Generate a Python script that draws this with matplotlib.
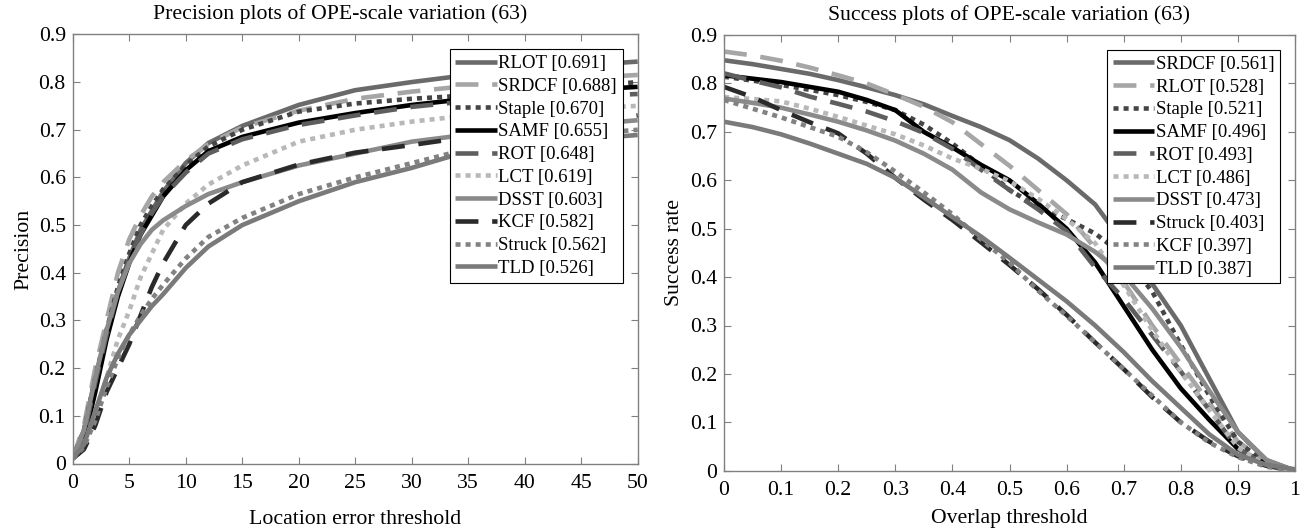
import matplotlib
matplotlib.use("Agg")
import matplotlib.pyplot as plt
import numpy as np

plt.rcParams['font.family'] = ['Liberation Serif', 'DejaVu Serif']

# ---------------- data: precision plot ----------------
prec_x = [0, 1, 2, 3, 4, 5, 6, 7, 8, 10, 12, 15, 20, 25, 30, 35, 40, 45, 50]
prec_names = ["RLOT", "SRDCF", "Staple", "SAMF", "ROT", "LCT", "DSST", "KCF", "Struck", "TLD"]
prec_scores = ["0.691", "0.688", "0.670", "0.655", "0.648", "0.619", "0.603", "0.582", "0.562", "0.526"]
prec_RLOT   = [0.01, 0.07, 0.18, 0.27, 0.36, 0.43, 0.49, 0.53, 0.57, 0.63, 0.672, 0.708, 0.752, 0.783, 0.80, 0.815, 0.825, 0.835, 0.843]
prec_SRDCF  = [0.01, 0.08, 0.20, 0.30, 0.40, 0.47, 0.52, 0.56, 0.59, 0.635, 0.67, 0.705, 0.74, 0.765, 0.78, 0.792, 0.80, 0.808, 0.815]
prec_Staple = [0.01, 0.07, 0.18, 0.28, 0.37, 0.44, 0.50, 0.54, 0.575, 0.625, 0.665, 0.70, 0.738, 0.755, 0.765, 0.772, 0.78, 0.79, 0.80]
prec_SAMF   = [0.01, 0.05, 0.15, 0.26, 0.35, 0.42, 0.48, 0.52, 0.56, 0.615, 0.655, 0.685, 0.715, 0.735, 0.752, 0.765, 0.775, 0.783, 0.79]
prec_ROT    = [0.01, 0.06, 0.17, 0.27, 0.36, 0.43, 0.48, 0.525, 0.56, 0.61, 0.65, 0.68, 0.71, 0.73, 0.748, 0.76, 0.765, 0.77, 0.775]
prec_LCT    = [0.01, 0.04, 0.10, 0.18, 0.26, 0.32, 0.39, 0.44, 0.49, 0.545, 0.585, 0.625, 0.675, 0.70, 0.717, 0.73, 0.74, 0.745, 0.75]
prec_DSST   = [0.01, 0.07, 0.18, 0.28, 0.36, 0.42, 0.46, 0.49, 0.51, 0.54, 0.565, 0.59, 0.625, 0.65, 0.675, 0.69, 0.70, 0.71, 0.72]
prec_KCF    = [0.01, 0.03, 0.08, 0.15, 0.20, 0.25, 0.31, 0.37, 0.42, 0.50, 0.545, 0.59, 0.627, 0.652, 0.668, 0.685, 0.70, 0.715, 0.73]
prec_Struck = [0.01, 0.035, 0.09, 0.16, 0.22, 0.27, 0.31, 0.345, 0.375, 0.43, 0.475, 0.515, 0.565, 0.60, 0.63, 0.66, 0.68, 0.69, 0.70]
prec_TLD    = [0.01, 0.04, 0.11, 0.18, 0.23, 0.27, 0.30, 0.33, 0.355, 0.41, 0.455, 0.50, 0.55, 0.59, 0.62, 0.655, 0.67, 0.68, 0.689]

# ---------------- data: success plot ----------------
succ_x = [0, 0.05, 0.1, 0.15, 0.2, 0.25, 0.3, 0.35, 0.4, 0.45, 0.5, 0.55, 0.6, 0.65, 0.7, 0.75, 0.8, 0.85, 0.9, 0.95, 1.0]
succ_names = ["SRDCF", "RLOT", "Staple", "SAMF", "ROT", "LCT", "DSST", "Struck", "KCF", "TLD"]
succ_scores = ["0.561", "0.528", "0.521", "0.496", "0.493", "0.486", "0.473", "0.403", "0.397", "0.387"]
succ_SRDCF  = [0.848, 0.84, 0.83, 0.82, 0.807, 0.792, 0.776, 0.757, 0.733, 0.71, 0.683, 0.645, 0.60, 0.55, 0.47, 0.386, 0.30, 0.19, 0.08, 0.022, 0.0]
succ_RLOT   = [0.866, 0.858, 0.847, 0.833, 0.817, 0.80, 0.777, 0.752, 0.72, 0.675, 0.63, 0.58, 0.53, 0.46, 0.39, 0.30, 0.22, 0.14, 0.06, 0.02, 0.0]
succ_Staple = [0.814, 0.806, 0.797, 0.787, 0.776, 0.762, 0.745, 0.715, 0.676, 0.63, 0.58, 0.545, 0.52, 0.49, 0.445, 0.37, 0.26, 0.155, 0.06, 0.015, 0.0]
succ_SAMF   = [0.817, 0.81, 0.803, 0.793, 0.783, 0.766, 0.745, 0.70, 0.668, 0.632, 0.60, 0.552, 0.50, 0.43, 0.34, 0.25, 0.17, 0.105, 0.045, 0.013, 0.0]
succ_ROT    = [0.821, 0.806, 0.792, 0.773, 0.758, 0.742, 0.722, 0.698, 0.665, 0.622, 0.58, 0.54, 0.495, 0.42, 0.355, 0.28, 0.205, 0.125, 0.045, 0.012, 0.0]
succ_LCT    = [0.772, 0.768, 0.763, 0.748, 0.731, 0.713, 0.695, 0.672, 0.645, 0.624, 0.598, 0.562, 0.52, 0.47, 0.383, 0.29, 0.205, 0.125, 0.048, 0.012, 0.0]
succ_DSST   = [0.769, 0.76, 0.75, 0.736, 0.721, 0.703, 0.682, 0.655, 0.622, 0.575, 0.54, 0.513, 0.488, 0.452, 0.405, 0.335, 0.255, 0.165, 0.08, 0.022, 0.0]
succ_Struck = [0.793, 0.772, 0.745, 0.72, 0.697, 0.655, 0.605, 0.56, 0.518, 0.472, 0.425, 0.375, 0.322, 0.265, 0.21, 0.152, 0.10, 0.06, 0.03, 0.01, 0.0]
succ_KCF    = [0.766, 0.748, 0.73, 0.71, 0.69, 0.658, 0.618, 0.575, 0.53, 0.478, 0.43, 0.372, 0.32, 0.265, 0.21, 0.155, 0.10, 0.058, 0.028, 0.008, 0.0]
succ_TLD    = [0.721, 0.71, 0.695, 0.676, 0.655, 0.634, 0.605, 0.565, 0.524, 0.484, 0.44, 0.395, 0.35, 0.30, 0.245, 0.185, 0.13, 0.075, 0.033, 0.012, 0.003]

prec_series = [prec_RLOT, prec_SRDCF, prec_Staple, prec_SAMF, prec_ROT,
               prec_LCT, prec_DSST, prec_KCF, prec_Struck, prec_TLD]
succ_series = [succ_SRDCF, succ_RLOT, succ_Staple, succ_SAMF, succ_ROT,
               succ_LCT, succ_DSST, succ_Struck, succ_KCF, succ_TLD]

# styles by rank
rank_colors = ["#6a6a6a", "#a6a6a6", "#454545", "#000000", "#5e5e5e",
               "#b8b8b8", "#8a8a8a", "#2a2a2a", "#828282", "#7a7a7a"]
DASH = (0, (5.0, 3.0))
DOT = (0, (1.1, 1.1))
rank_dash = ["-", DASH, DOT, "-", DASH, DOT, "-", DASH, DOT, "-"]

FS = 15.7
LFS = 13.5
spine_col = "#808080"

fig = plt.figure(figsize=(13.09, 5.31), dpi=100)
ax1 = fig.add_axes([72.7/1309, 1-463.5/531, (637.7-72.7)/1309, (463.5-34.4)/531])
ax2 = fig.add_axes([724/1309, 1-470.7/531, (1295-724)/1309, (470.7-35.1)/531])


def style_axes(ax):
    for s in ax.spines.values():
        s.set_color(spine_col)
        s.set_linewidth(1.0)
    ax.tick_params(direction="in", top=True, right=True, length=5,
                   color=spine_col, labelsize=FS, labelcolor="black")
    ax.tick_params(axis="y", pad=5)
    ax.tick_params(axis="x", pad=7.5)


def draw(ax, xs, series, names, scores):
    for i in range(len(series)):
        ax.plot(xs, series[i], color=rank_colors[i], linestyle=rank_dash[i],
                linewidth=3.3, label=f"{names[i]} [{scores[i]}]",
                dash_capstyle="butt", solid_capstyle="butt")
    leg = ax.legend(loc="upper right", fontsize=LFS, frameon=True, fancybox=False,
                    edgecolor="black", framealpha=1.0, borderaxespad=0.8,
                    handlelength=2.2, handletextpad=0.1, labelspacing=0.3,
                    borderpad=0.3)
    leg.get_frame().set_linewidth(0.8)


draw(ax1, prec_x, prec_series, prec_names, prec_scores)
ax1.set_xlim(0, 50)
ax1.set_ylim(0, 0.9)
ax1.set_xticks(np.arange(0, 51, 5))
ax1.set_yticks(np.round(np.arange(0, 0.91, 0.1), 1))
ax1.set_yticklabels(["0"] + [f"{v:.1f}" for v in np.arange(0.1, 0.91, 0.1)])
t1 = ax1.set_title("Precision plots of OPE-scale variation (63)", fontsize=FS, pad=11)
t1.set_x(0.474)
ax1.set_xlabel("Location error threshold", fontsize=FS, labelpad=12)
ax1.set_ylabel("Precision", fontsize=FS, labelpad=4)
style_axes(ax1)

draw(ax2, succ_x, succ_series, succ_names, succ_scores)
ax2.set_xlim(0, 1)
ax2.set_ylim(0, 0.9)
ax2.set_xticks(np.round(np.arange(0, 1.01, 0.1), 1))
ax2.set_xticklabels(["0"] + [f"{v:.1f}" for v in np.arange(0.1, 0.91, 0.1)] + ["1"])
ax2.set_yticks(np.round(np.arange(0, 0.91, 0.1), 1))
ax2.set_yticklabels(["0"] + [f"{v:.1f}" for v in np.arange(0.1, 0.91, 0.1)])
ax2.set_title("Success plots of OPE-scale variation (63)", fontsize=FS, pad=11)
ax2.set_xlabel("Overlap threshold", fontsize=FS, labelpad=6.5)
ax2.set_ylabel("Success rate", fontsize=FS, labelpad=4)
style_axes(ax2)

fig.savefig("out.png", dpi=100)
